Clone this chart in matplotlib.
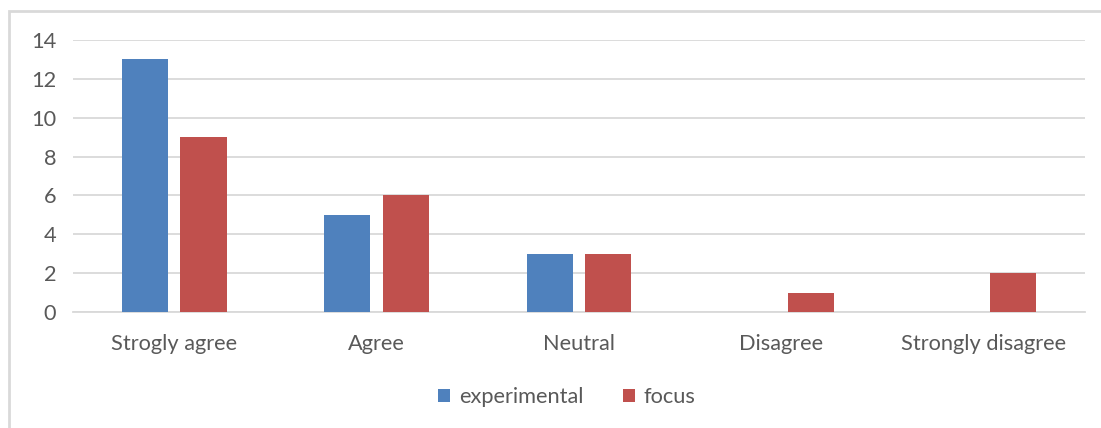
import matplotlib
matplotlib.use("Agg")
import matplotlib.pyplot as plt
from matplotlib.patches import Rectangle
import numpy as np

categories = ["Strogly agree", "Agree", "Neutral", "Disagree", "Strongly disagree"]
experimental = [13, 5, 3, 0, 0]
focus = [9, 6, 3, 1, 2]
yticks = [0, 2, 4, 6, 8, 10, 12, 14]

BLUE = "#4F81BD"
RED = "#C0504D"
TEXT = "#595959"
GRID = "#D9D9D9"

plt.rcParams["font.family"] = ["Lato", "DejaVu Sans"]

fig = plt.figure(figsize=(11.01, 4.28), dpi=100)
ax = fig.add_axes([73 / 1101, 1 - 312 / 428, (1085 - 73) / 1101, (312 - 40) / 428])

x = np.arange(len(categories))
w = 0.228
ax.bar(x - 0.145, experimental, width=w, color=BLUE, label="experimental", zorder=3)
ax.bar(x + 0.145, focus, width=w, color=RED, label="focus", zorder=3)

ax.set_xlim(-0.5, len(categories) - 0.5)
ax.set_ylim(0, 14)
ax.set_yticks(yticks)
ax.set_xticks(x)
ax.set_xticklabels(categories)
ax.tick_params(axis="both", length=0, labelsize=15.7, colors=TEXT)
ax.tick_params(axis="y", pad=12)
ax.tick_params(axis="x", pad=16)
ax.yaxis.grid(True, color=GRID, linewidth=1.3, zorder=0)
for s in ["top", "right", "left"]:
    ax.spines[s].set_visible(False)
ax.spines["bottom"].set_color(GRID)
ax.spines["bottom"].set_linewidth(1.3)

fig.legend(loc="center", bbox_to_anchor=(567 / 1101, 1 - 397 / 428), ncol=2, frameon=False,
           fontsize=15.7, labelcolor=TEXT, handlelength=0.55, handleheight=0.55,
           handletextpad=0.4, columnspacing=1.8)

# outer chart frame
fig.patches.append(Rectangle((9 / 1101, -0.1), 1.2, 1 - 11 / 428 + 0.1, transform=fig.transFigure,
                             fill=False, edgecolor=GRID, linewidth=2))

fig.savefig("out.png", dpi=100, facecolor="white")
